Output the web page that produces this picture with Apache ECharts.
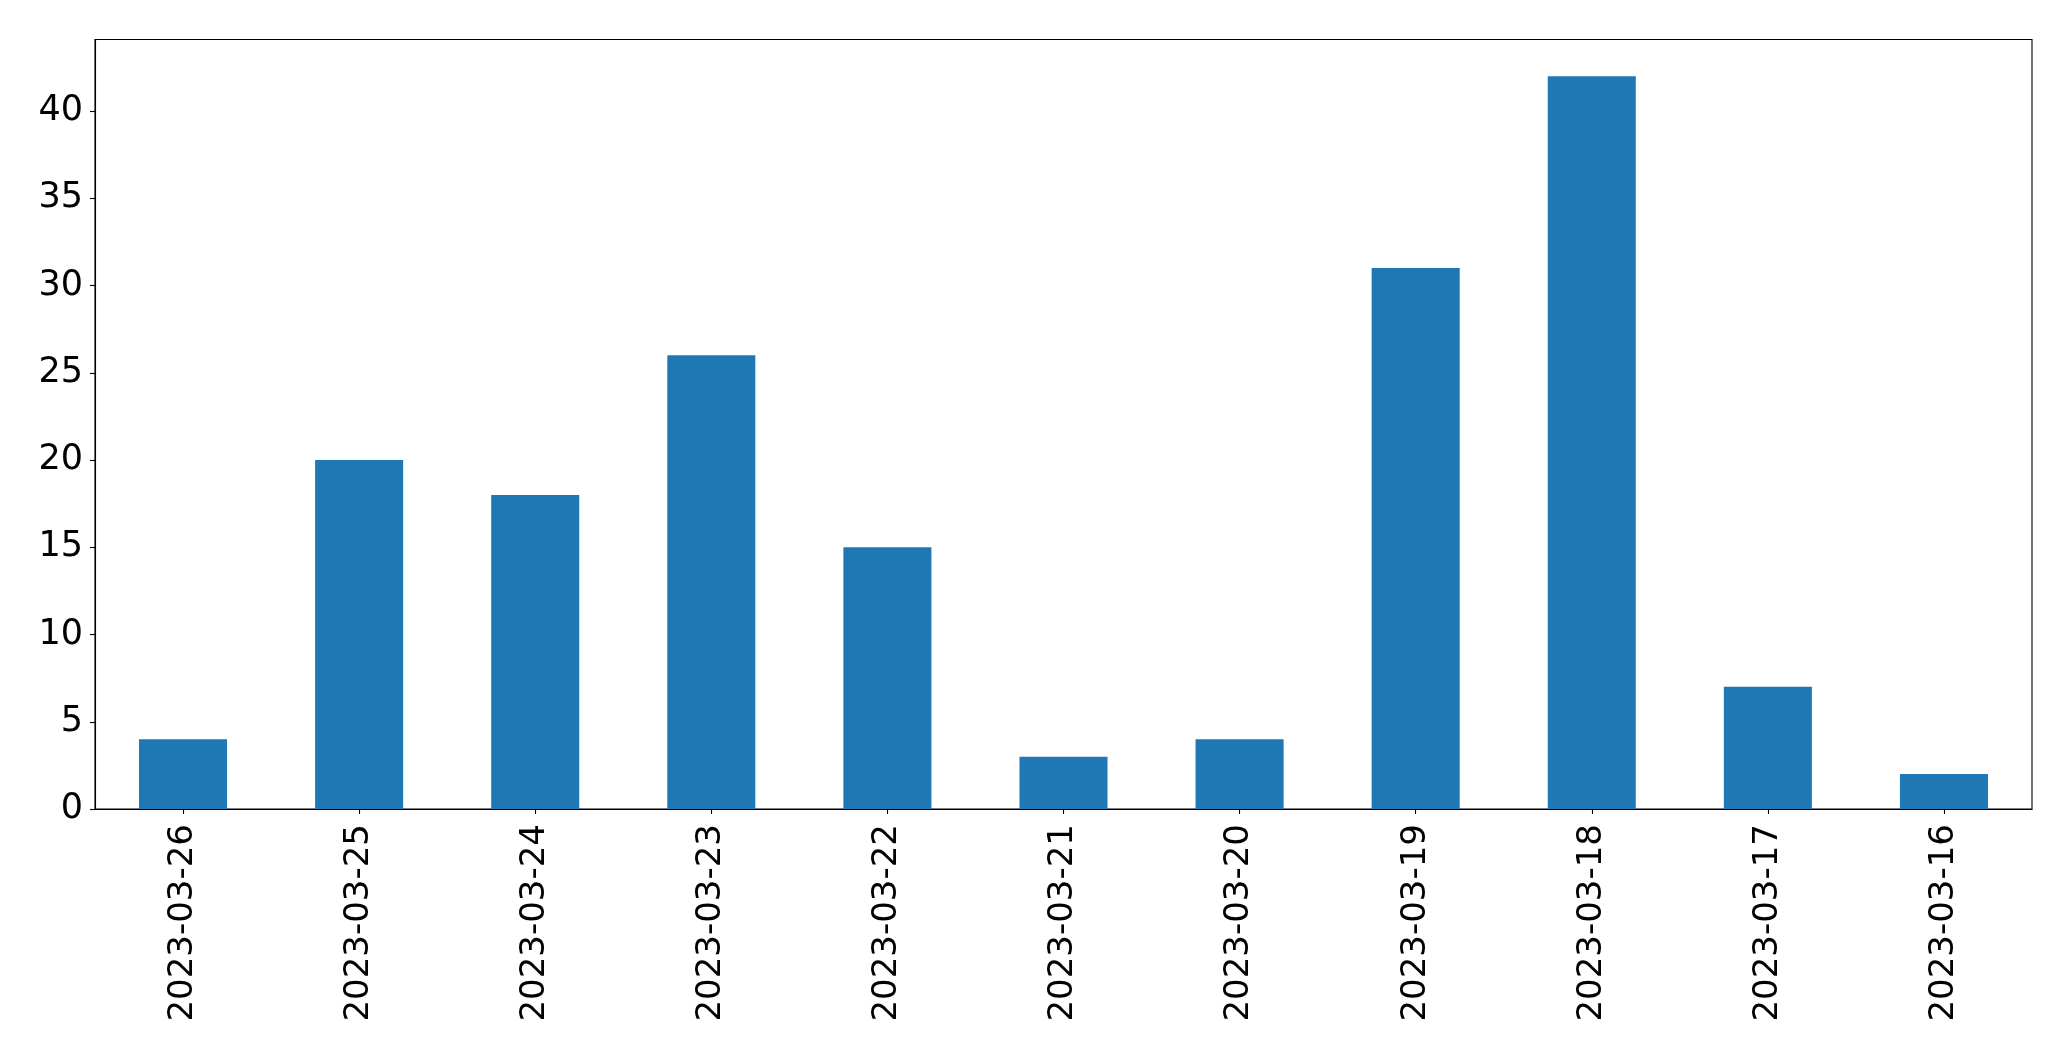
<!DOCTYPE html>
<html>
<head>
<meta charset="utf-8">
<script src="https://cdn.jsdelivr.net/npm/echarts@6/dist/echarts.min.js"></script>
<style>
html,body{margin:0;padding:0;background:#fff;}
#chart{width:2071px;height:1061px;}
</style>
</head>
<body>
<div id="chart"></div>
<script>
const categories = ['2023-03-26','2023-03-25','2023-03-24','2023-03-23','2023-03-22','2023-03-21','2023-03-20','2023-03-19','2023-03-18','2023-03-17','2023-03-16'];
const values = [4, 20, 18, 26, 15, 3, 4, 31, 42, 7, 2];
const yTicks = [0, 5, 10, 15, 20, 25, 30, 35, 40];

const chart = echarts.init(document.getElementById('chart'), null, {renderer: 'canvas'});
const font = 'DejaVu Sans';
chart.setOption({
  animation: false,
  backgroundColor: '#fff',
  grid: {
    left: 95, right: 39, top: 39.5, bottom: 252,
    show: true, borderColor: '#000', borderWidth: 1.1, backgroundColor: 'transparent'
  },
  xAxis: {
    type: 'category',
    data: categories,
    boundaryGap: true,
    axisLine: {show: true, lineStyle: {color: '#000', width: 1.1}},
    axisTick: {show: true, alignWithLabel: true, length: 5, lineStyle: {color: '#000', width: 1.1}},
    axisLabel: {rotate: 90, margin: 15, fontFamily: font, fontSize: 34, color: '#000', interval: 0},
    splitLine: {show: false}
  },
  yAxis: {
    type: 'value',
    min: 0,
    max: 44.1,
    interval: 5,
    axisLine: {show: true, lineStyle: {color: '#000', width: 1.1}},
    axisTick: {show: true, length: 5, customValues: yTicks, lineStyle: {color: '#000', width: 1.1}},
    axisLabel: {margin: 12, fontFamily: font, fontSize: 35, color: '#000', customValues: yTicks},
    splitLine: {show: false}
  },
  series: [{
    type: 'bar',
    data: values,
    barWidth: '50%',
    itemStyle: {color: '#1f77b4'}
  }]
});
</script>
</body>
</html>
